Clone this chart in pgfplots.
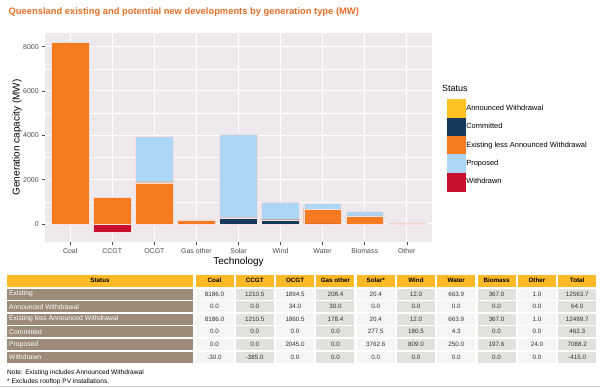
\documentclass[border=0pt]{standalone}
\usepackage{fontspec}
\setmainfont{Liberation Sans}
\usepackage{pgfplots}
\pgfplotsset{compat=1.18}

\definecolor{panelbg}{RGB}{237,233,237}
\definecolor{tickgray}{RGB}{77,77,77}
\definecolor{cAnn}{RGB}{255,194,34}
\definecolor{cCom}{RGB}{22,57,94}
\definecolor{cExi}{RGB}{245,122,32}
\definecolor{cPro}{RGB}{171,214,245}
\definecolor{cWit}{RGB}{200,16,46}
\definecolor{barline}{RGB}{250,222,222}
\definecolor{titleorange}{RGB}{228,110,40}
\definecolor{thead}{RGB}{253,185,39}
\definecolor{tlab}{RGB}{155,139,120}
\definecolor{tlight}{RGB}{245,245,243}
\definecolor{tdark}{RGB}{227,225,221}
\definecolor{ttext}{RGB}{50,50,50}

\pgfplotsset{
  geom/.style={at={(45bp,145bp)}, anchor=south west, width=387bp, height=209bp,
    scale only axis, xmin=0.4, xmax=9.6, ymin=-814, ymax=8615},
  lkey/.style={legend image code/.code={\fill[#1] (0bp,-9bp) rectangle (18bp,9bp);}},
  bars/.style={draw=barline, line width=0.3bp},
}

\begin{document}
\begin{tikzpicture}[x=1bp,y=1bp]
\path[use as bounding box] (0,0) rectangle (600,387);

% title
\node[anchor=west, inner sep=0pt, font=\bfseries\fontsize{9.4}{11}\selectfont, text=titleorange] at (8.5,375) {Queensland existing and potential new developments by generation type (MW)};

\begin{axis}[geom,
  axis background/.style={fill=panelbg},
  axis line style={draw=none},
  xtick={1,...,9},
  xticklabels={Coal,CCGT,OCGT,Gas other,Solar,Wind,Water,Biomass,Other},
  ytick={0,2000,4000,6000,8000},
  minor ytick={1000,3000,5000,7000},
  xmajorgrids, ymajorgrids, yminorgrids,
  major grid style={draw=white, line width=1bp},
  minor grid style={draw=white, line width=0.5bp},
  tick align=outside, tick pos=left,
  major tick length=2.75bp, minor tick length=0pt,
  tick style={draw=tickgray, line width=0.5bp},
  /pgf/number format/assume math mode=true,
  /pgf/number format/set thousands separator={},
  scaled y ticks=false,
  tick label style={font=\fontsize{7}{8}\selectfont, text=tickgray},
  xlabel={Technology}, ylabel={Generation capacity (MW)},
  label style={font=\fontsize{9}{10}\selectfont},
  every axis x label/.style={at={(axis description cs:0.5,-0.094)}, anchor=center},
  every axis y label/.style={at={(axis description cs:-0.0724,0.5)}, rotate=90, anchor=center},
  legend style={at={(axis description cs:1.031,0.694)}, anchor=north west, draw=none, fill=none,
    font=\fontsize{7.5}{9}\selectfont, nodes={inner sep=0.75bp}, row sep=0pt},
  legend cell align=left,
]
\addplot[ybar, bar width=0.9, bar shift=0pt, fill=cWit, bars, forget plot]
  coordinates {(1,-30) (2,-385) (3,0) (4,0) (5,0) (6,0) (7,0) (8,0) (9,0)};
\addlegendimage{lkey=cAnn}\addlegendentry{Announced Withdrawal}
\addlegendimage{lkey=cCom}\addlegendentry{Committed}
\addlegendimage{lkey=cExi}\addlegendentry{Existing less Announced Withdrawal}
\addlegendimage{lkey=cPro}\addlegendentry{Proposed}
\addlegendimage{lkey=cWit}\addlegendentry{Withdrawn}
\end{axis}

\begin{axis}[geom, hide axis, ybar stacked, bar width=0.9]
\addplot[fill=cCom, bars] coordinates {(1,0) (2,0) (3,0) (4,0) (5,277.5) (6,180.5) (7,4.3) (8,0) (9,0)};
\addplot[fill=cExi, bars] coordinates {(1,8186) (2,1210.5) (3,1860.5) (4,178.4) (5,20.4) (6,12) (7,663.9) (8,367) (9,1)};
\addplot[fill=cAnn, bars] coordinates {(1,0) (2,0) (3,34) (4,30) (5,0) (6,0) (7,0) (8,0) (9,0)};
\addplot[fill=cPro, bars] coordinates {(1,0) (2,0) (3,2045) (4,0) (5,3762.6) (6,809) (7,250) (8,197.6) (9,24)};
\end{axis}

\node[anchor=west, inner sep=0pt, font=\fontsize{9}{10}\selectfont] at (442,299) {Status};

% table
\begin{scope}[shift={(0,387)}, yscale=-1]
  \draw[draw={rgb,255:red,200;green,200;blue,200}, line width=0.8bp] (0,386.2) -- (600,386.2);
  \fill[thead] (7,274.5) rectangle (193,287);
  \node[font=\bfseries\fontsize{6.3}{7}\selectfont] at (100,280.75) {Status};
  \foreach \name [count=\j from 0] in {Coal,CCGT,OCGT,Gas other,Solar*,Wind,Water,Biomass,Other,Total} {
    \pgfmathsetmacro\xa{195.5+\j*40.3}
    \fill[thead] (\xa,274.5) rectangle ++(38,12.5);
    \node[font=\bfseries\fontsize{6.3}{7}\selectfont] at (\xa+19,280.75) {\name};
  }
  \foreach \lab [count=\i from 0] in {Existing,Announced Withdrawal,Existing less Announced Withdrawal,Committed,Proposed,Withdrawn} {
    \pgfmathsetmacro\ya{288.5+\i*12.6}
    \fill[tlab] (7,\ya) rectangle (193,\ya+11);
    \node[anchor=west, inner sep=0pt, text=white, font=\fontsize{6.8}{8}\selectfont] at (9,\ya+5.5) {\lab};
  }
  \foreach \row [count=\i from 0] in {
    {8186.0,1210.5,1894.5,208.4,20.4,12.0,663.9,367.0,1.0,12563.7},
    {0.0,0.0,34.0,30.0,0.0,0.0,0.0,0.0,0.0,64.0},
    {8186.0,1210.5,1860.5,178.4,20.4,12.0,663.9,367.0,1.0,12499.7},
    {0.0,0.0,0.0,0.0,277.5,180.5,4.3,0.0,0.0,462.3},
    {0.0,0.0,2045.0,0.0,3762.6,809.0,250.0,197.6,24.0,7088.2},
    {-30.0,-385.0,0.0,0.0,0.0,0.0,0.0,0.0,0.0,-415.0}} {
    \pgfmathsetmacro\ya{288.5+\i*12.6}
    \foreach \v [count=\j from 0] in \row {
      \pgfmathsetmacro\xa{195.5+\j*40.3}
      \ifodd\j \def\cc{tdark}\else\def\cc{tlight}\fi
      \fill[\cc] (\xa,\ya) rectangle ++(38,11);
      \node[text=ttext, inner sep=0pt, font=\fontsize{6.3}{7}\selectfont] at (\xa+19,\ya+5.5) {\v};
    }
  }
  \node[anchor=west, inner sep=0pt, font=\fontsize{6.6}{8}\selectfont] at (7,372.5) {Note: Existing includes Announced Withdrawal};
  \node[anchor=west, inner sep=1pt, fill=white, font=\fontsize{6.6}{8}\selectfont] at (6,382) {* Excludes rooftop PV installations.};
\end{scope}
\end{tikzpicture}
\end{document}
